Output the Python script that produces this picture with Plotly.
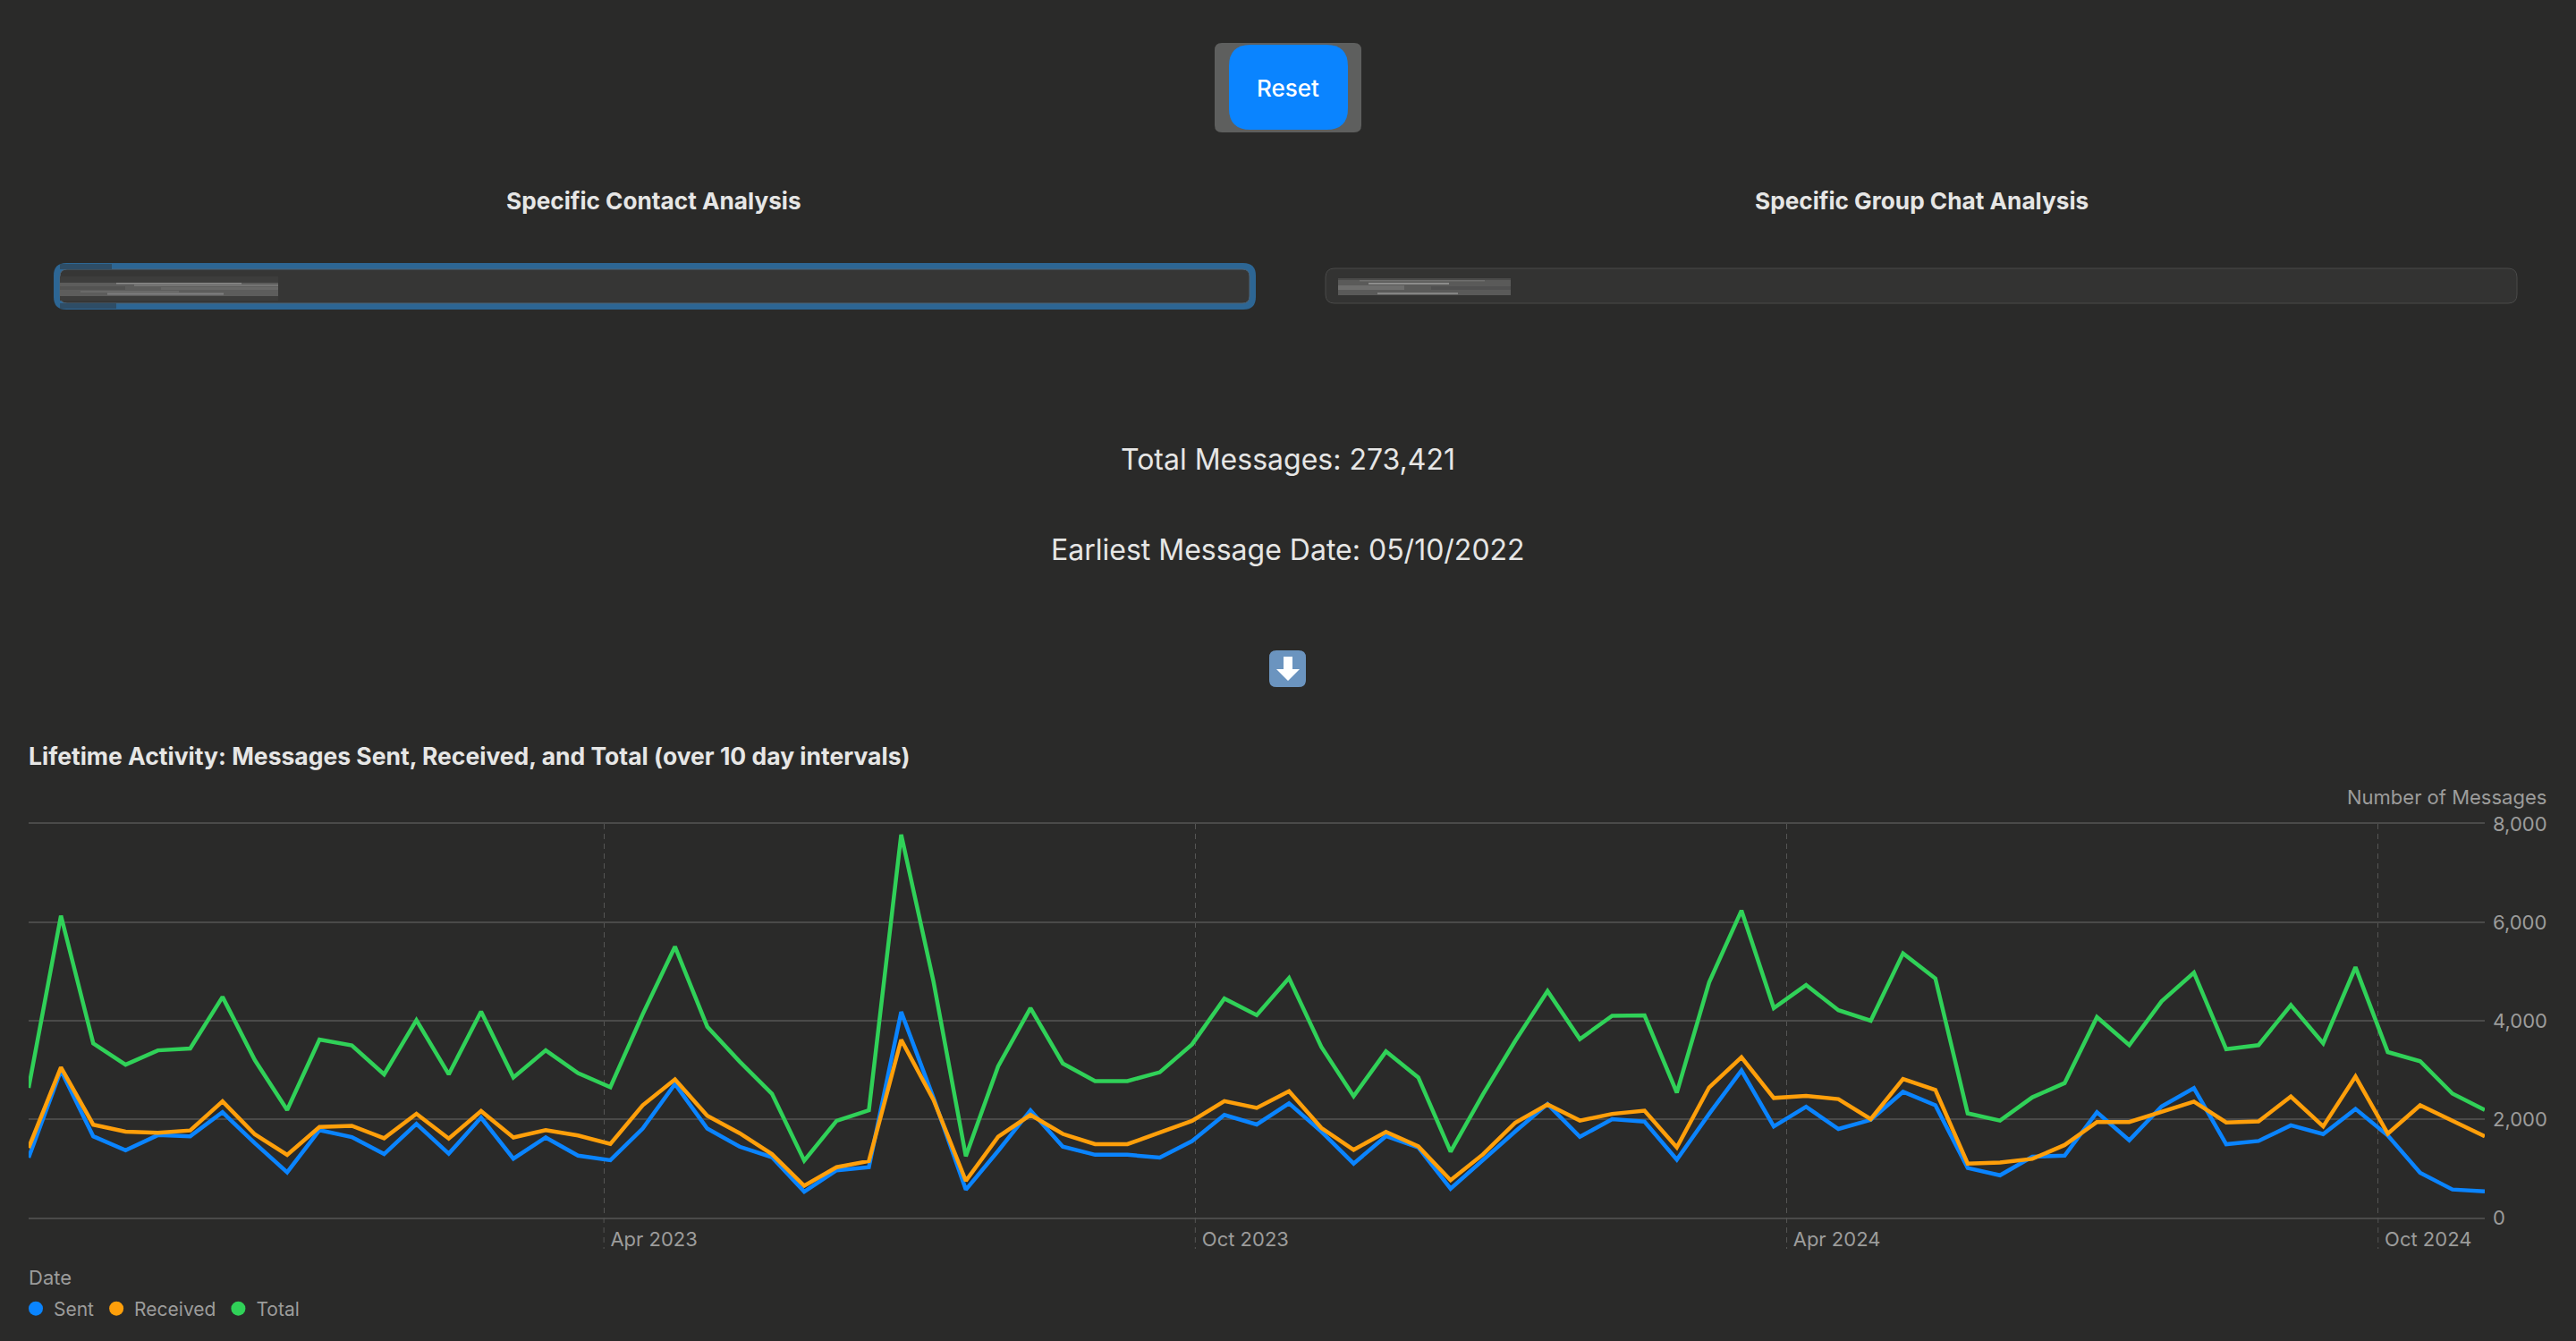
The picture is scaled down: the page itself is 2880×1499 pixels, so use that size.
import pandas as pd
import plotly.graph_objects as go

# messages per 10 day bucket
start_date = "2022-10-05"
sent = [1219, 2990, 1652, 1369, 1675, 1652, 2140, 1510, 920, 1778, 1636, 1290, 1904, 1298, 2030, 1196, 1628, 1259, 1164, 1809,
        2714, 1809, 1440, 1227, 527, 960, 1023, 4180, 2430, 566, 1355, 2179, 1441, 1276, 1276, 1219, 1555, 2086, 1892, 2322,
        1749, 1097, 1656, 1426, 588, 1176, 1749, 2308, 1641, 2000, 1950, 1176, 2107, 2990, 1852, 2252, 1800, 1985, 2555, 2281,
        1007, 859, 1237, 1259, 2141, 1570, 2259, 2630, 1489, 1556, 1874, 1696, 2207, 1667, 911, 570, 533]
received = [1416, 3052, 1888, 1746, 1723, 1770, 2360, 1691, 1274, 1840, 1864, 1612, 2108, 1605, 2163, 1628, 1778, 1668, 1495, 2281,
            2808, 2069, 1715, 1290, 645, 1023, 1148, 3613, 2394, 745, 1641, 2086, 1699, 1491, 1491, 1727, 1964, 2365, 2229, 2566,
            1821, 1376, 1742, 1448, 760, 1283, 1928, 2301, 1971, 2107, 2172, 1426, 2645, 3256, 2430, 2474, 2407, 2000, 2815, 2593,
            1096, 1118, 1193, 1474, 1941, 1941, 2148, 2355, 1933, 1955, 2459, 1852, 2867, 1704, 2281, 1963, 1652]
total = [2635, 6135, 3540, 3107, 3398, 3437, 4484, 3200, 2187, 3618, 3500, 2910, 4012, 2910, 4185, 2848, 3398, 2934, 2650, 4130,
         5506, 3878, 3170, 2517, 1156, 1966, 2179, 7780, 4795, 1247, 3075, 4258, 3132, 2774, 2774, 2953, 3520, 4451, 4114, 4867,
         3469, 2466, 3376, 2846, 1340, 2502, 3591, 4602, 3627, 4100, 4107, 2537, 4781, 6240, 4258, 4726, 4215, 4000, 5370, 4859,
         2118, 1970, 2444, 2733, 4074, 3504, 4393, 4978, 3422, 3504, 4318, 3541, 5089, 3363, 3178, 2518, 2185]

series_names = ["Sent", "Received", "Total"]
series_colors = ["#0a84ff", "#ff9f0a", "#30d158"]
x_tick_dates = ["2023-04-01", "2023-10-01", "2024-04-01", "2024-10-01"]
x_tick_labels = ["Apr 2023", "Oct 2023", "Apr 2024", "Oct 2024"]
y_ticks = [0, 2000, 4000, 6000, 8000]

W, H = 2880, 1499
BG = "#2a2a29"
FONT = "Inter"
TEXT = "#e6e6e5"
MUTED = "#9c9c9b"
GRID = "#4a4a49"
VGRID = "#555554"

dates = pd.date_range(start_date, periods=len(sent), freq="10D")


def px(x):
    return x / W


def py(y):
    return 1 - y / H


def rounded(x0, y0, x1, y1, r):
    # rounded rectangle as a path in paper coordinates, input in page pixels
    pts = [
        f"M {px(x0 + r)} {py(y0)}", f"L {px(x1 - r)} {py(y0)}",
        f"Q {px(x1)} {py(y0)} {px(x1)} {py(y0 + r)}", f"L {px(x1)} {py(y1 - r)}",
        f"Q {px(x1)} {py(y1)} {px(x1 - r)} {py(y1)}", f"L {px(x0 + r)} {py(y1)}",
        f"Q {px(x0)} {py(y1)} {px(x0)} {py(y1 - r)}", f"L {px(x0)} {py(y0 + r)}",
        f"Q {px(x0)} {py(y0)} {px(x0 + r)} {py(y0)}", "Z",
    ]
    return " ".join(pts)


def box(x0, y0, x1, y1, r, fill, line=None, line_width=0):
    return dict(type="path", xref="paper", yref="paper", path=rounded(x0, y0, x1, y1, r),
                fillcolor=fill, line=dict(color=line or fill, width=line_width), layer="above")


def band(x0, y0, x1, y1, fill):
    return dict(type="rect", xref="paper", yref="paper", x0=px(x0), x1=px(x1), y0=py(y0), y1=py(y1),
                fillcolor=fill, line_width=0, layer="above")


def label(text, x, y, size, color=TEXT, weight=400, xanchor="center"):
    return dict(text=text, xref="paper", yref="paper", x=px(x), y=py(y), xanchor=xanchor, yanchor="middle",
                showarrow=False, font=dict(family=FONT, size=size, color=color, weight=weight))


fig = go.Figure()
for name, values, color in zip(series_names, [sent, received, total], series_colors):
    fig.add_trace(go.Scatter(x=dates, y=values, mode="lines", name=name, showlegend=False,
                             line=dict(color=color, width=4.5, shape="linear")))
# legend dots only, no line sample
for name, color in zip(series_names, series_colors):
    fig.add_trace(go.Scatter(x=[None], y=[None], mode="markers", name=name,
                             marker=dict(color=color, size=16)))

shapes = [
    # reset button
    box(1358, 48, 1522, 148, 8, "#5e5f5e"),
    box(1374, 50, 1507, 145, 24, "#0a84ff"),
    # focused contact input
    box(60, 294, 1404, 346, 14, "#2d6694"),
    box(67, 301, 1397, 339, 8, "#363635", "#4c6478", 1),
    band(67, 295, 125, 301, "#2e4d66"),
    band(67, 339, 130, 345, "#2e4d66"),
    # blurred out name
    band(67, 309, 311, 316, "#3d3d3c"),
    band(67, 316, 311, 331, "#5d5d5c"),
    band(67, 331, 311, 336, "#3c3c3b"),
    band(130, 316, 270, 317.5, "#8a8a89"),
    band(150, 318, 311, 320, "#747473"),
    band(67, 320, 140, 324, "#535352"),
    band(180, 321, 311, 324, "#686867"),
    band(90, 325, 200, 327, "#6a6a69"),
    band(120, 327.5, 250, 329.5, "#808080"),
    # group chat input
    box(1482, 300, 2814, 339, 10, "#333332", "#4a4a49", 1),
    band(1496, 311, 1689, 330, "#5a5a59"),
    band(1496, 311, 1689, 313, "#4a4a49"),
    band(1520, 313, 1660, 314.5, "#6e6e6d"),
    band(1530, 316, 1620, 318, "#8c8c8b"),
    band(1496, 319, 1570, 324, "#6e6e6d"),
    band(1600, 320, 1689, 324, "#505050"),
    band(1540, 327, 1630, 329, "#848483"),
    # download emoji drawn by hand, no emoji font here
    box(1419, 727, 1460, 768, 8, "#6b94bf"),
    dict(type="path", xref="paper", yref="paper", fillcolor="#ffffff", line_width=0, layer="above",
         path=f"M {px(1435)} {py(734)} L {px(1445)} {py(734)} L {px(1445)} {py(748)} L {px(1453)} {py(748)} "
              f"L {px(1440)} {py(761)} L {px(1427)} {py(748)} L {px(1435)} {py(748)} Z"),
]
# x gridlines carry on below the axis down to the labels
for d in x_tick_dates:
    shapes.append(dict(type="line", xref="x", yref="paper", x0=d, x1=d, y0=py(1361), y1=py(1396),
                       line=dict(color=VGRID, width=1, dash="6px,5px")))

annotations = [
    label("Reset", 1440, 98, 26, "#ffffff", 500),
    label("Specific Contact Analysis", 731, 224, 26.2, TEXT, 700),
    label("Specific Group Chat Analysis", 2148, 224, 26.2, TEXT, 700),
    label("Total Messages: 273,421", 1440, 513, 32),
    label("Earliest Message Date: 05/10/2022", 1440, 615, 32),
    label("Lifetime Activity: Messages Sent, Received, and Total (over 10 day intervals)", 30, 845, 26.5, TEXT, 700, "left"),
    label("Number of Messages", 2849, 891, 22, MUTED, 400, "right"),
    label("Date", 30, 1428, 22, MUTED, 400, "left"),
]

fig.update_layout(
    width=W, height=H, margin=dict(l=0, r=0, t=0, b=0, autoexpand=False), autosize=False,
    template="none",
    paper_bgcolor=BG, plot_bgcolor=BG,
    font=dict(family=FONT, size=22, color=MUTED),
    shapes=shapes, annotations=annotations,
    legend=dict(orientation="h", xref="container", yref="container", x=px(20), xanchor="left",
                y=py(1463), yanchor="middle",
                font=dict(size=21, color=MUTED), bgcolor="rgba(0,0,0,0)", traceorder="normal"),
)
fig.update_xaxes(
    domain=[px(32), px(2778)], range=[dates[0], dates[-1]], tickvals=x_tick_dates, ticktext=x_tick_labels,
    automargin=False, showgrid=True, griddash="6px,5px", gridcolor=VGRID, gridwidth=1, zeroline=False,
    showline=True, mirror=True, linecolor=GRID, linewidth=2,
    ticks="", ticklabelshift=56, ticklabelstandoff=4, tickfont=dict(size=22, color=MUTED),
)
fig.update_yaxes(
    domain=[py(1361), py(921)], range=[0, 8000], tickvals=y_ticks, tickformat=",", side="right",
    automargin=False, showgrid=True, gridcolor=GRID, gridwidth=2, zeroline=False, showline=False,
    ticks="", ticklabelstandoff=8, tickfont=dict(size=22, color=MUTED),
)

fig.write_html("out.html", config={"displayModeBar": False},
               post_script=f"document.body.style.margin='0';document.body.style.background='{BG}';")
